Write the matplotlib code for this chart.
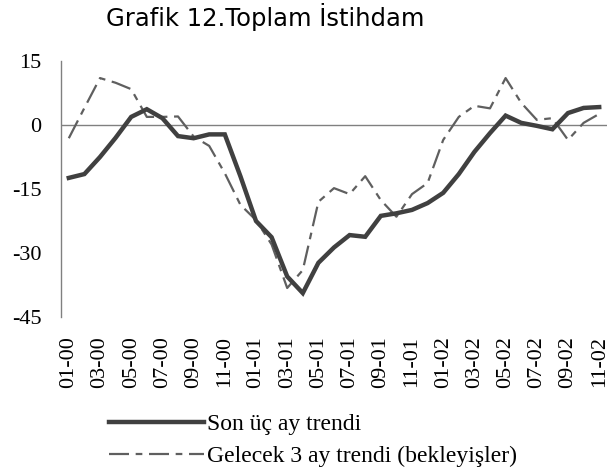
import matplotlib
matplotlib.use("Agg")
import matplotlib.pyplot as plt
from matplotlib.lines import Line2D

categories = [f"{m:02d}-{y:02d}" for y in range(0, 3) for m in range(1, 13)][:35]

son_uc_ay = [-12.4, -11.5, -7.5, -3.0, 1.9, 3.7, 1.6, -2.6, -3.1, -2.2, -2.2, -12.0,
             -22.5, -26.3, -35.5, -39.4, -32.3, -28.7, -25.8, -26.2, -21.3, -20.7, -19.9, -18.3,
             -15.9, -11.5, -6.3, -1.9, 2.2, 0.5, -0.2, -1.0, 2.8, 4.0, 4.2]

gelecek_3_ay = [-3.1, 4.0, 11.0, 9.9, 8.4, 1.9, 1.9, 2.0, -2.7, -4.9, -11.3, -18.7,
                -22.3, -28.0, -38.2, -34.0, -18.0, -14.8, -16.2, -12.0, -17.6, -21.5, -16.2, -13.6,
                -3.5, 1.9, 4.5, 3.9, 11.0, 5.2, 1.2, 1.6, -3.5, 0.5, 2.6]

yticks = [15, 0, -15, -30, -45]

W, H = 609, 472
fig = plt.figure(figsize=(W / 100, H / 100), dpi=100)
ax = fig.add_axes([61 / W, (H - 317) / H, (607 - 61) / W, (317 - 61) / H])

x = list(range(len(categories)))
solid_color = "#404040"
dash_color = "#5f5f5f"
ax.axhline(0, color="#808080", lw=1.0, zorder=1)
ax.plot(x, gelecek_3_ay, color=dash_color, lw=1.6, dashes=(9, 3, 3, 3), zorder=2)
ax.plot(x, son_uc_ay, color=solid_color, lw=3.2, solid_joinstyle="miter", zorder=3)

ax.set_xlim(-0.5, len(categories) - 0.5)
ax.set_ylim(-45, 15)
ax.set_yticks(yticks)
ax.set_yticklabels([str(v) for v in yticks], fontfamily="Liberation Serif", fontsize=16)
ax.set_xticks(x[::2])
ax.set_xticklabels(categories[::2], rotation=90, fontfamily="Liberation Serif", fontsize=16)
ax.tick_params(axis="y", length=0, pad=14)
ax.tick_params(axis="x", length=0, pad=14)
for s in ["top", "right", "bottom"]:
    ax.spines[s].set_visible(False)
ax.spines["left"].set_color("#808080")
ax.spines["left"].set_linewidth(1.0)
ax.patch.set_alpha(0)

fig.text(265 / W, 1 - 17 / H, "Grafik 12.Toplam İstihdam", ha="center", va="center",
         fontsize=17.5, fontfamily="DejaVu Sans", color="black")

handles = [Line2D([], [], color=solid_color, lw=3.2),
           Line2D([], [], color=dash_color, lw=1.6, dashes=(9, 3, 3, 3))]
fig.legend(handles, ["Son üç ay trendi", "Gelecek 3 ay trendi (bekleyişler)"],
           loc="upper left", bbox_to_anchor=(88 / W, 1 - 392 / H), frameon=False,
           prop={"family": "Liberation Serif", "size": 17}, handlelength=4.0,
           handletextpad=0.12, labelspacing=0.45)

fig.savefig("out.png", dpi=100)
